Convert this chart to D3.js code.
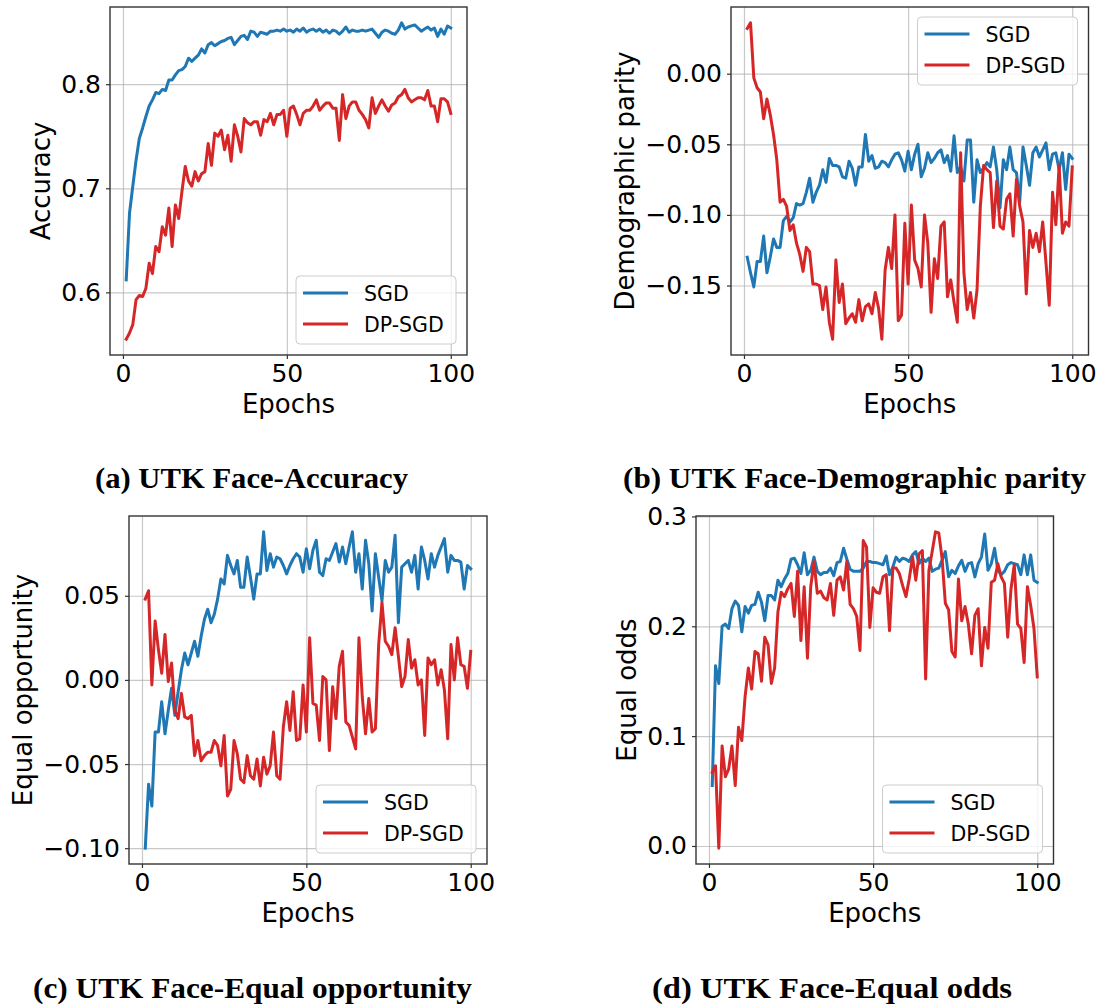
<!DOCTYPE html>
<html>
<head>
<meta charset="utf-8">
<script src="https://cdn.jsdelivr.net/npm/d3@7"></script>
<style>
  body { margin: 0; background: #fff; }
  svg { display: block; }
  text { font-family: "DejaVu Sans", sans-serif; fill: #000; }
  text.caption { font-family: "Liberation Serif", "DejaVu Serif", serif; font-weight: bold; }
</style>
</head>
<body>
<div id="vis"></div>
<script>
// frame
const FRAME_WIDTH = 1102;
const FRAME_HEIGHT = 1007;

// x values: training epochs 1..100
const EPOCHS = d3.range(1, 101);
const X_TICKS = [0, 50, 100];
const SERIES_NAMES = ["SGD", "DP-SGD"];
const COLORS = ["#1f77b4", "#d62728"];

// (a) accuracy
const ACC_SGD = [0.612,0.676,0.702,0.727,0.748,0.758,0.769,0.779,0.785,0.792,
  0.791,0.795,0.794,0.804,0.804,0.809,0.813,0.814,0.817,0.825,
  0.822,0.825,0.828,0.834,0.830,0.838,0.840,0.837,0.839,0.841,
  0.842,0.844,0.845,0.838,0.842,0.846,0.847,0.843,0.851,0.850,
  0.846,0.850,0.849,0.848,0.851,0.851,0.852,0.851,0.853,0.851,
  0.852,0.850,0.853,0.851,0.854,0.850,0.852,0.853,0.851,0.853,
  0.850,0.852,0.849,0.852,0.851,0.848,0.851,0.855,0.850,0.852,
  0.851,0.851,0.852,0.851,0.852,0.853,0.849,0.845,0.850,0.852,
  0.851,0.849,0.848,0.852,0.859,0.853,0.855,0.856,0.857,0.854,
  0.851,0.853,0.855,0.852,0.854,0.846,0.853,0.848,0.856,0.854];
const ACC_DPSGD = [0.555,0.561,0.569,0.593,0.597,0.596,0.604,0.628,0.618,0.644,
  0.639,0.663,0.655,0.681,0.644,0.684,0.671,0.697,0.721,0.707,
  0.702,0.716,0.707,0.714,0.716,0.743,0.722,0.753,0.750,0.756,
  0.737,0.751,0.726,0.761,0.750,0.735,0.767,0.763,0.761,0.764,
  0.764,0.751,0.766,0.764,0.772,0.761,0.771,0.771,0.775,0.750,
  0.777,0.779,0.771,0.761,0.772,0.775,0.775,0.779,0.785,0.775,
  0.779,0.782,0.782,0.777,0.777,0.746,0.790,0.767,0.779,0.783,
  0.783,0.775,0.771,0.766,0.758,0.787,0.772,0.779,0.785,0.779,
  0.774,0.780,0.782,0.788,0.790,0.795,0.787,0.783,0.785,0.787,
  0.787,0.785,0.794,0.779,0.779,0.764,0.786,0.786,0.783,0.772];

// (b) demographic parity
const DEMO_SGD = [-0.130,-0.141,-0.151,-0.133,-0.133,-0.115,-0.141,-0.130,-0.117,-0.123,
  -0.123,-0.104,-0.101,-0.105,-0.102,-0.092,-0.093,-0.092,-0.084,-0.074,
  -0.091,-0.084,-0.079,-0.068,-0.077,-0.060,-0.065,-0.065,-0.066,-0.073,
  -0.074,-0.062,-0.067,-0.079,-0.066,-0.066,-0.043,-0.062,-0.058,-0.067,
  -0.066,-0.062,-0.063,-0.066,-0.061,-0.057,-0.056,-0.061,-0.069,-0.055,
  -0.068,-0.057,-0.050,-0.073,-0.067,-0.056,-0.063,-0.060,-0.056,-0.054,
  -0.063,-0.058,-0.069,-0.044,-0.070,-0.066,-0.076,-0.047,-0.047,-0.091,
  -0.061,-0.070,-0.067,-0.063,-0.066,-0.052,-0.068,-0.095,-0.061,-0.068,
  -0.052,-0.068,-0.070,-0.091,-0.052,-0.065,-0.079,-0.056,-0.052,-0.059,
  -0.054,-0.049,-0.068,-0.057,-0.056,-0.068,-0.056,-0.082,-0.057,-0.060];
const DEMO_DPSGD = [0.032,0.036,-0.003,-0.010,-0.013,-0.032,-0.018,-0.029,-0.043,-0.061,
  -0.091,-0.089,-0.094,-0.111,-0.107,-0.120,-0.128,-0.140,-0.123,-0.126,
  -0.149,-0.149,-0.150,-0.167,-0.151,-0.176,-0.188,-0.132,-0.162,-0.149,
  -0.177,-0.173,-0.170,-0.176,-0.160,-0.175,-0.165,-0.163,-0.170,-0.155,
  -0.166,-0.188,-0.139,-0.123,-0.138,-0.100,-0.175,-0.171,-0.106,-0.149,
  -0.093,-0.132,-0.138,-0.151,-0.100,-0.120,-0.169,-0.131,-0.145,-0.108,
  -0.105,-0.158,-0.146,-0.162,-0.176,-0.056,-0.141,-0.167,-0.155,-0.173,
  -0.153,-0.094,-0.065,-0.068,-0.070,-0.109,-0.076,-0.108,-0.110,-0.089,
  -0.085,-0.115,-0.075,-0.094,-0.105,-0.156,-0.111,-0.123,-0.113,-0.126,
  -0.105,-0.134,-0.164,-0.084,-0.107,-0.065,-0.113,-0.105,-0.108,-0.066];

// (c) equal opportunity
const EOPP_SGD = [-0.100,-0.062,-0.075,-0.031,-0.031,-0.013,-0.032,-0.018,-0.005,-0.021,
  -0.007,0.006,0.016,0.009,0.016,0.023,0.014,0.026,0.036,0.042,
  0.034,0.039,0.048,0.060,0.057,0.074,0.068,0.063,0.071,0.055,
  0.055,0.073,0.061,0.048,0.063,0.063,0.088,0.065,0.075,0.067,
  0.073,0.072,0.068,0.063,0.068,0.072,0.075,0.073,0.064,0.078,
  0.066,0.077,0.083,0.064,0.062,0.072,0.071,0.076,0.081,0.070,
  0.079,0.069,0.079,0.088,0.064,0.075,0.054,0.083,0.069,0.041,
  0.075,0.061,0.047,0.071,0.064,0.067,0.086,0.034,0.067,0.069,
  0.071,0.064,0.074,0.054,0.079,0.071,0.060,0.075,0.067,0.074,
  0.079,0.084,0.064,0.074,0.071,0.071,0.070,0.054,0.068,0.066];
const EOPP_DPSGD = [0.048,0.053,-0.003,0.035,0.018,0.004,0.027,-0.001,0.010,-0.018,
  -0.023,-0.008,-0.022,-0.023,-0.021,-0.045,-0.036,-0.048,-0.045,-0.043,
  -0.043,-0.036,-0.039,-0.051,-0.033,-0.069,-0.065,-0.036,-0.044,-0.059,
  -0.061,-0.045,-0.057,-0.059,-0.047,-0.063,-0.046,-0.056,-0.051,-0.031,
  -0.057,-0.059,-0.028,-0.013,-0.030,-0.007,-0.036,-0.035,-0.003,-0.031,
  0.025,-0.014,-0.015,-0.036,0.002,0.000,-0.042,-0.004,-0.023,0.008,
  0.017,-0.025,-0.027,-0.034,-0.041,0.025,-0.010,-0.032,-0.011,-0.031,
  -0.029,0.021,0.046,0.023,0.020,0.015,0.031,0.014,-0.004,0.002,
  0.024,0.007,0.012,-0.003,0.000,-0.033,0.013,0.009,0.012,-0.003,
  0.006,-0.006,-0.035,0.021,0.000,0.025,0.009,0.008,-0.005,0.017];

// (d) equal odds
const EODDS_SGD = [0.055,0.164,0.148,0.200,0.202,0.198,0.216,0.223,0.219,0.195,
  0.218,0.212,0.219,0.220,0.231,0.222,0.205,0.228,0.228,0.224,
  0.242,0.236,0.243,0.248,0.261,0.262,0.256,0.248,0.267,0.247,
  0.251,0.263,0.250,0.247,0.249,0.249,0.253,0.246,0.258,0.259,
  0.271,0.261,0.252,0.250,0.250,0.250,0.253,0.259,0.259,0.258,
  0.258,0.257,0.256,0.264,0.247,0.254,0.263,0.259,0.262,0.261,
  0.259,0.265,0.268,0.257,0.262,0.259,0.262,0.250,0.252,0.253,
  0.260,0.268,0.245,0.251,0.248,0.255,0.260,0.250,0.257,0.258,
  0.245,0.257,0.263,0.284,0.251,0.257,0.271,0.251,0.247,0.250,
  0.256,0.258,0.257,0.256,0.247,0.265,0.247,0.265,0.242,0.240];
const EODDS_DPSGD = [0.067,0.073,-0.002,0.091,0.063,0.070,0.091,0.055,0.108,0.096,
  0.136,0.162,0.143,0.177,0.175,0.150,0.190,0.183,0.148,0.162,
  0.213,0.231,0.227,0.234,0.239,0.209,0.250,0.187,0.236,0.171,
  0.236,0.259,0.230,0.232,0.226,0.224,0.239,0.210,0.242,0.245,
  0.233,0.259,0.220,0.216,0.209,0.178,0.278,0.272,0.199,0.235,
  0.231,0.230,0.245,0.247,0.196,0.253,0.253,0.248,0.237,0.227,
  0.243,0.263,0.242,0.266,0.269,0.152,0.251,0.268,0.286,0.285,
  0.262,0.221,0.215,0.177,0.172,0.243,0.205,0.218,0.202,0.175,
  0.210,0.216,0.164,0.199,0.180,0.240,0.242,0.257,0.245,0.239,
  0.190,0.234,0.256,0.202,0.198,0.167,0.236,0.219,0.198,0.154];

// y tick values per panel
const TICKS_A = [0.6, 0.7, 0.8];
const TICKS_B = [0.00, -0.05, -0.10, -0.15];
const TICKS_C = [0.05, 0.00, -0.05, -0.10];
const TICKS_D = [0.0, 0.1, 0.2, 0.3];

const FRAME = d3.select("#vis")
                .append("svg")
                  .attr("width", FRAME_WIDTH)
                  .attr("height", FRAME_HEIGHT);

// panel layout (pixels)
const PANELS = [
  {sgd: ACC_SGD, dp: ACC_DPSGD, ticks: TICKS_A, fmt: ".1f", ylabel: "Accuracy",
   caption: "(a) UTK Face-Accuracy", left: 110, right: 467, top: 7, bottom: 355,
   legendTop: false, capX: 251.5, capY: 488, capW: 313},
  {sgd: DEMO_SGD, dp: DEMO_DPSGD, ticks: TICKS_B, fmt: ".2f", ylabel: "Demographic parity",
   caption: "(b) UTK Face-Demographic parity", left: 731, right: 1088.5, top: 7, bottom: 355,
   legendTop: true, capX: 854.5, capY: 488, capW: 463},
  {sgd: EOPP_SGD, dp: EOPP_DPSGD, ticks: TICKS_C, fmt: ".2f", ylabel: "Equal opportunity",
   caption: "(c) UTK Face-Equal opportunity", left: 129, right: 487, top: 516, bottom: 864,
   legendTop: false, capX: 252.5, capY: 998, capW: 439},
  {sgd: EODDS_SGD, dp: EODDS_DPSGD, ticks: TICKS_D, fmt: ".1f", ylabel: "Equal odds",
   caption: "(d) UTK Face-Equal odds", left: 696, right: 1053.5, top: 516, bottom: 864,
   legendTop: false, capX: 832, capY: 998, capW: 360}
];

function build_panel(p) {
  const g = FRAME.append("g");

  // matplotlib style 5% margins
  const X_SCALE = d3.scaleLinear()
                    .domain([1 - 0.05 * 99, 100 + 0.05 * 99])
                    .range([p.left, p.right]);
  const all = p.sgd.concat(p.dp);
  const lo = d3.min(all), hi = d3.max(all), pad = (hi - lo) * 0.05;
  const Y_SCALE = d3.scaleLinear()
                    .domain([lo - pad, hi + pad])
                    .range([p.bottom, p.top]);

  // grid
  g.append("g")
    .attr("transform", "translate(0," + p.bottom + ")")
    .call(d3.axisBottom(X_SCALE).tickValues(X_TICKS)
            .tickSize(-(p.bottom - p.top)).tickFormat(""))
    .call(s => s.select(".domain").remove())
    .selectAll("line").attr("stroke", "#b0b0b0").attr("stroke-opacity", 0.7).attr("stroke-width", 1.2);
  g.append("g")
    .attr("transform", "translate(" + p.left + ",0)")
    .call(d3.axisLeft(Y_SCALE).tickValues(p.ticks)
            .tickSize(-(p.right - p.left)).tickFormat(""))
    .call(s => s.select(".domain").remove())
    .selectAll("line").attr("stroke", "#b0b0b0").attr("stroke-opacity", 0.7).attr("stroke-width", 1.2);

  // lines
  const line = d3.line()
                 .x((d, i) => X_SCALE(EPOCHS[i]))
                 .y(d => Y_SCALE(d));
  [p.sgd, p.dp].forEach((s, k) => {
    g.append("path")
      .datum(s)
      .attr("d", line)
      .attr("fill", "none")
      .attr("stroke", COLORS[k])
      .attr("stroke-width", 3)
      .attr("stroke-linejoin", "round")
      .attr("stroke-linecap", "square");
  });

  // frame
  g.append("rect")
    .attr("x", p.left).attr("y", p.top)
    .attr("width", p.right - p.left).attr("height", p.bottom - p.top)
    .attr("fill", "none").attr("stroke", "#333").attr("stroke-width", 1.4);

  // axes
  const xAxis = g.append("g")
    .attr("transform", "translate(0," + p.bottom + ")")
    .call(d3.axisBottom(X_SCALE).tickValues(X_TICKS).tickSize(4).tickPadding(5).tickFormat(d3.format("d")));
  const yAxis = g.append("g")
    .attr("transform", "translate(" + p.left + ",0)")
    .call(d3.axisLeft(Y_SCALE).tickValues(p.ticks).tickSize(4).tickPadding(5).tickFormat(d3.format(p.fmt)));
  [xAxis, yAxis].forEach(a => {
    a.select(".domain").remove();
    a.selectAll("line").attr("stroke", "#333").attr("stroke-width", 1.2);
    a.selectAll("text").attr("font-size", "25px").attr("fill", "#000");
  });

  // axis labels
  g.append("text")
    .attr("x", (p.left + p.right) / 2)
    .attr("y", p.bottom + 58)
    .attr("text-anchor", "middle")
    .attr("font-size", "26px")
    .text("Epochs");
  const yb = yAxis.node().getBBox();
  g.append("text")
    .attr("transform", "translate(" + (p.left + yb.x - 11) + "," + ((p.top + p.bottom) / 2) + ") rotate(-90)")
    .attr("text-anchor", "middle")
    .attr("font-size", "26px")
    .text(p.ylabel);

  // legend
  const LW = 160, LH = 68;
  const lx = p.right - 11 - LW;
  const ly = p.legendTop ? p.top + 10 : p.bottom - 11 - LH;
  g.append("rect")
    .attr("x", lx).attr("y", ly).attr("width", LW).attr("height", LH)
    .attr("rx", 4).attr("fill", "#fff").attr("fill-opacity", 0.8)
    .attr("stroke", "#cccccc").attr("stroke-width", 1);
  SERIES_NAMES.forEach((name, k) => {
    const yy = ly + 17 + k * 31;
    g.append("line")
      .attr("x1", lx + 7).attr("x2", lx + 52)
      .attr("y1", yy).attr("y2", yy)
      .attr("stroke", COLORS[k]).attr("stroke-width", 3);
    g.append("text")
      .attr("x", lx + 68).attr("y", yy + 7.5)
      .attr("font-size", "20.5px")
      .text(name);
  });

  // caption
  g.append("text")
    .attr("class", "caption")
    .attr("x", p.capX)
    .attr("y", p.capY)
    .attr("text-anchor", "middle")
    .attr("font-size", "30px")
    .attr("textLength", p.capW)
    .attr("lengthAdjust", "spacingAndGlyphs")
    .text(p.caption);
}

PANELS.forEach(build_panel);
</script>
</body>
</html>
